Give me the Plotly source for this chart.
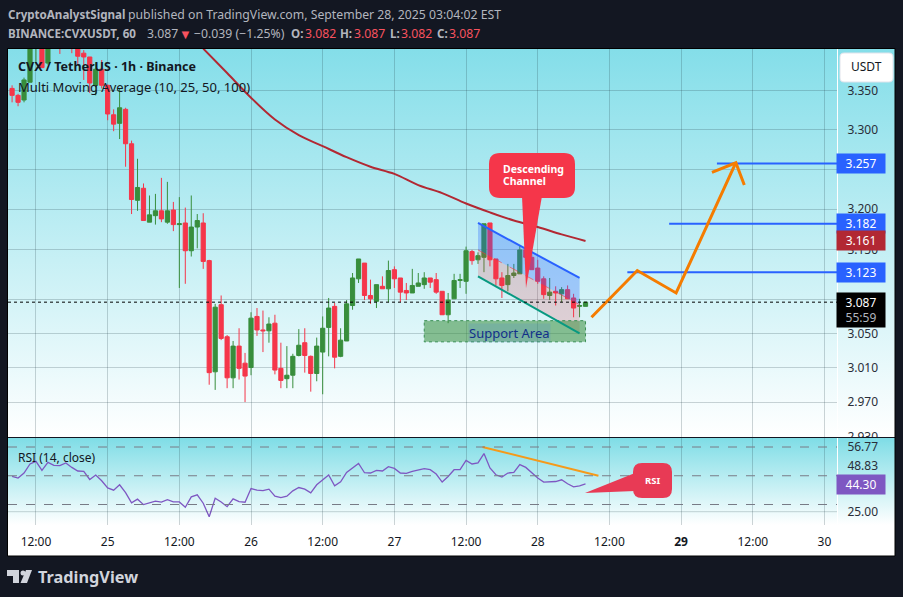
import math

import pandas as pd
import plotly.graph_objects as go

W, H = 903, 597
FONT = "Noto Sans"
DARK = "#131722"
GRID = "rgba(30,60,70,0.22)"
UP = "#388e3c"
DOWN = "#f5364a"

# hourly candles (the first bars run above the pane)
BAR_START = "2025-09-24 08:00"
OPEN = [3.353, 3.344, 3.338, 3.361, 3.425, 3.44, 3.386, 3.43, 3.46, 3.43, 3.44, 3.43, 3.399, 3.394, 3.357, 3.378,
        3.357, 3.319, 3.308, 3.326, 3.282, 3.211, 3.226, 3.184, 3.192, 3.198, 3.184, 3.199, 3.181, 3.183, 3.149, 3.178,
        3.183, 3.137, 3.005, 3.084, 3.046, 2.998, 3.035, 3.015, 3.010, 3.070, 3.054, 3.053, 3.062, 3.009, 2.997, 3.001,
        3.024, 3.039, 3.023, 3.003, 3.028, 3.057, 3.082, 3.023, 3.041, 3.083, 3.115, 3.134, 3.095, 3.088, 3.106, 3.103,
        3.126, 3.116, 3.101, 3.098, 3.106, 3.108, 3.116, 3.114, 3.100, 3.072, 3.091, 3.113, 3.112, 3.148, 3.138, 3.141,
        3.183, 3.139, 3.116, 3.108, 3.119, 3.121, 3.150, 3.141, 3.128, 3.115, 3.095, 3.100, 3.097, 3.102, 3.092, 3.082,
        3.082]
HIGH = [3.357, 3.346, 3.367, 3.44, 3.46, 3.46, 3.45, 3.47, 3.48, 3.45, 3.46, 3.45, 3.403, 3.394, 3.387, 3.390,
        3.358, 3.326, 3.353, 3.328, 3.286, 3.263, 3.232, 3.217, 3.219, 3.239, 3.234, 3.209, 3.215, 3.202, 3.217, 3.194,
        3.195, 3.138, 3.085, 3.095, 3.048, 3.041, 3.056, 3.027, 3.075, 3.080, 3.077, 3.069, 3.072, 3.039, 3.035, 3.026,
        3.055, 3.056, 3.024, 3.045, 3.070, 3.092, 3.086, 3.056, 3.0895, 3.122, 3.139, 3.134, 3.114, 3.108, 3.118, 3.137,
        3.130, 3.116, 3.110, 3.127, 3.122, 3.123, 3.116, 3.122, 3.100, 3.098, 3.121, 3.121, 3.154, 3.150, 3.147, 3.182,
        3.183, 3.139, 3.123, 3.133, 3.133, 3.155, 3.155, 3.147, 3.138, 3.118, 3.116, 3.106, 3.105, 3.107, 3.097, 3.091,
        3.087]
LOW = [3.335, 3.330, 3.335, 3.361, 3.386, 3.38, 3.384, 3.41, 3.398, 3.41, 3.399, 3.385, 3.364, 3.347, 3.344, 3.353,
       3.312, 3.298, 3.288, 3.253, 3.194, 3.198, 3.186, 3.184, 3.181, 3.184, 3.182, 3.173, 3.104, 3.109, 3.142, 3.152,
       3.127, 2.990, 2.984, 3.042, 2.986, 2.986, 2.996, 2.970, 3.001, 3.047, 3.028, 3.039, 3.002, 2.986, 2.986, 2.986,
       3.023, 3.004, 2.982, 2.994, 2.979, 3.023, 3.009, 3.022, 3.041, 3.078, 3.110, 3.0895, 3.085, 3.080, 3.103, 3.087,
       3.104, 3.087, 3.0895, 3.098, 3.106, 3.103, 3.104, 3.097, 3.072, 3.062, 3.091, 3.104, 3.097, 3.132, 3.133, 3.123,
       3.130, 3.107, 3.092, 3.100, 3.116, 3.121, 3.136, 3.126, 3.109, 3.091, 3.0895, 3.083, 3.087, 3.091, 3.069, 3.069,
       3.082]
CLOSE = [3.344, 3.335, 3.364, 3.42, 3.45, 3.380, 3.43, 3.46, 3.42, 3.42, 3.42, 3.395, 3.394, 3.360, 3.378, 3.357,
         3.320, 3.307, 3.328, 3.282, 3.212, 3.227, 3.186, 3.193, 3.198, 3.188, 3.198, 3.181, 3.182, 3.149, 3.178, 3.186,
         3.136, 3.004, 3.081, 3.044, 2.998, 3.035, 3.009, 3.000, 3.068, 3.054, 3.053, 3.061, 3.007, 2.995, 3.001, 3.023,
         3.036, 3.024, 3.003, 3.035, 3.056, 3.080, 3.022, 3.042, 3.085, 3.116, 3.139, 3.095, 3.091, 3.108, 3.103, 3.125,
         3.115, 3.099, 3.098, 3.107, 3.110, 3.116, 3.111, 3.099, 3.072, 3.0895, 3.113, 3.114, 3.149, 3.137, 3.143, 3.182,
         3.138, 3.115, 3.107, 3.119, 3.122, 3.150, 3.141, 3.126, 3.112, 3.096, 3.099, 3.098, 3.102, 3.091, 3.080, 3.083,
         3.087]

MA_TIMES = ["2025-09-25 16:00", "2025-09-25 20:00", "2025-09-26 00:00", "2025-09-26 04:00", "2025-09-26 08:00",
            "2025-09-26 12:00", "2025-09-26 16:00", "2025-09-26 20:00", "2025-09-27 00:00", "2025-09-27 04:00",
            "2025-09-27 08:00", "2025-09-27 12:00", "2025-09-27 16:00", "2025-09-27 20:00", "2025-09-28 00:00",
            "2025-09-28 04:00", "2025-09-28 08:00"]
MA_VALUES = [3.405, 3.373, 3.341, 3.313, 3.293, 3.279, 3.265, 3.253, 3.244, 3.230, 3.220, 3.207, 3.196, 3.186, 3.178,
             3.169, 3.161]

RSI = [49.5, 48.4, 51.9, 58.2, 60.0, 53.7, 59.3, 57.2, 57.0, 58.9, 55.8, 53.3, 53.0, 47.4, 50.5, 46.5, 41.6, 40.0, 43.7,
       38.3, 31.1, 33.7, 29.9, 30.9, 32.3, 31.6, 33.4, 31.8, 31.8, 28.1, 35.3, 36.7, 30.9, 21.5, 34.4, 31.8, 28.5, 33.9,
       32.0, 31.6, 41.1, 40.0, 39.7, 40.7, 35.8, 34.8, 35.8, 39.5, 41.8, 40.7, 38.1, 43.7, 47.2, 50.5, 43.0, 45.8, 52.3,
       55.6, 58.6, 52.1, 51.9, 53.7, 53.3, 56.3, 55.1, 51.9, 51.6, 53.0, 53.7, 54.9, 54.2, 51.2, 45.6, 49.5, 54.2, 54.2,
       60.7, 58.2, 58.9, 65.4, 55.4, 50.7, 49.1, 51.9, 52.3, 57.7, 55.8, 51.9, 48.4, 45.6, 45.8, 46.0, 47.2, 44.4, 42.3,
       43.0, 44.3]

# drawings on the chart, in time / price
CHANNEL_TIMES = ["2025-09-27 14:00", "2025-09-28 07:00"]
CHANNEL_TOP = [3.183, 3.116]
CHANNEL_MID = [3.150, 3.084]
CHANNEL_LOW = [3.118, 3.050]
SUPPORT_TIMES = ["2025-09-27 05:00", "2025-09-28 08:00"]
SUPPORT_PRICES = [3.040, 3.065]
TARGET_PRICES = [3.257, 3.182, 3.123]
TARGET_STARTS = ["2025-09-29 06:00", "2025-09-28 22:00", "2025-09-28 15:00"]
AXIS_END = "2025-09-30 02:06"
AXIS_START = "2025-09-24 07:19"
PATH_TIMES = ["2025-09-28 09:00", "2025-09-28 16:40", "2025-09-28 23:10", "2025-09-29 09:10"]
PATH_PRICES = [3.069, 3.125, 3.098, 3.258]
HEAD_TIMES = ["2025-09-29 05:10", "2025-09-29 09:10", "2025-09-29 10:35"]
HEAD_PRICES = [3.246, 3.258, 3.230]
RSI_TREND_TIMES = ["2025-09-27 14:45", "2025-09-28 10:10"]
RSI_TREND_VALUES = [70, 50]

PRICE_TICKS = [3.35, 3.30, 3.25, 3.20, 3.15, 3.09, 3.05, 3.01, 2.97, 2.93]
TIME_TICKS = ["2025-09-24 12:00", "2025-09-25 00:00", "2025-09-25 12:00", "2025-09-26 00:00", "2025-09-26 12:00",
              "2025-09-27 00:00", "2025-09-27 12:00", "2025-09-28 00:00", "2025-09-28 12:00", "2025-09-29 00:00",
              "2025-09-29 12:00", "2025-09-30 00:00"]
TIME_LABELS = ["12:00", "25", "12:00", "26", "12:00", "27", "12:00", "28", "12:00", "<b>29</b>", "12:00", "30"]
RSI_TICKS = [70, 56.8, 25]
RSI_LABELS = ["56.77", "48.83", "25.00"]
RSI_BANDS = [70, 50, 30]

bar_times = pd.date_range(BAR_START, periods=len(OPEN), freq="h")


def px_x(x):
    return x / W


def px_y(y):
    return 1 - y / H


def pt(x, y):
    return f"{px_x(x):.5f},{px_y(y):.5f}"


def round_rect(x0, y0, x1, y1, r):
    return (f"M {pt(x0 + r, y0)} L {pt(x1 - r, y0)} Q {pt(x1, y0)} {pt(x1, y0 + r)} L {pt(x1, y1 - r)} "
            f"Q {pt(x1, y1)} {pt(x1 - r, y1)} L {pt(x0 + r, y1)} Q {pt(x0, y1)} {pt(x0, y1 - r)} "
            f"L {pt(x0, y0 + r)} Q {pt(x0, y0)} {pt(x0 + r, y0)} Z")


def panel(path, fill, line="rgba(0,0,0,0)", width=0):
    fig.add_shape(type="path", path=path, xref="paper", yref="paper", fillcolor=fill,
                  line=dict(color=line, width=width), layer="above")


def label(text, x, y, size=12, color="#000000", anchor="left", **kw):
    fig.add_annotation(text=text, xref="paper", yref="paper", x=px_x(x), y=px_y(y), showarrow=False,
                       xanchor=anchor, yanchor="middle", font=dict(family=FONT, size=size, color=color), **kw)


def price_tag(text, price, bg, color="#ffffff", height=19, shift=0):
    fig.add_annotation(text=text, xref="paper", yref="y2", x=px_x(861), y=math.log10(price), showarrow=False,
                       xanchor="center", yanchor="middle", bgcolor=bg, width=48, height=height, yshift=shift,
                       font=dict(family=FONT, size=12, color=color), borderpad=0)


fig = go.Figure()


def gradient_rect(x0, x1, y0, y1, top):
    # pane background, on its own pixel-scaled axes underneath everything
    fig.add_trace(go.Scatter(x=[x0, x1, x1, x0, x0], y=[y0, y0, y1, y1, y0], mode="lines", fill="toself",
                             line=dict(width=0),
                             fillgradient=dict(type="vertical", colorscale=[[0, "#ffffff"], [1, top]]),
                             hoverinfo="skip", xaxis="x", yaxis="y"))


gradient_rect(8, 895, 49, 437, "#84dee9")
gradient_rect(8, 895, 438, 525, "#7fdde6")
fig.add_trace(go.Scatter(x=[8, 895, 895, 8, 8], y=[525, 525, 556, 556, 525], mode="lines", fill="toself",
                         fillcolor="#ffffff", line=dict(width=0), hoverinfo="skip", xaxis="x", yaxis="y"))

fig.add_trace(go.Candlestick(x=bar_times, open=OPEN, high=HIGH, low=LOW, close=CLOSE, whiskerwidth=0,
                             increasing=dict(line=dict(color=UP, width=1), fillcolor=UP),
                             decreasing=dict(line=dict(color=DOWN, width=1), fillcolor=DOWN),
                             xaxis="x2", yaxis="y2"))


def line2(x, y, color, width=2, dash="solid", axis="y2", shape="linear"):
    fig.add_trace(go.Scatter(x=x, y=y, mode="lines", line=dict(color=color, width=width, dash=dash, shape=shape),
                             hoverinfo="skip", xaxis="x2", yaxis=axis))


# channel fills, upper half blue and lower half pink
fig.add_trace(go.Scatter(x=CHANNEL_TIMES + CHANNEL_TIMES[::-1], y=CHANNEL_TOP + CHANNEL_MID[::-1], mode="lines",
                         fill="toself", fillcolor="rgba(41,98,255,0.30)", line=dict(width=0), hoverinfo="skip",
                         xaxis="x2", yaxis="y2"))
fig.add_trace(go.Scatter(x=CHANNEL_TIMES + CHANNEL_TIMES[::-1], y=CHANNEL_MID + CHANNEL_LOW[::-1], mode="lines",
                         fill="toself", fillcolor="rgba(242,54,69,0.20)", line=dict(width=0), hoverinfo="skip",
                         xaxis="x2", yaxis="y2"))
fig.add_trace(go.Scatter(x=[SUPPORT_TIMES[0], SUPPORT_TIMES[1], SUPPORT_TIMES[1], SUPPORT_TIMES[0], SUPPORT_TIMES[0]],
                         y=[SUPPORT_PRICES[1], SUPPORT_PRICES[1], SUPPORT_PRICES[0], SUPPORT_PRICES[0],
                            SUPPORT_PRICES[1]],
                         mode="lines", fill="toself", fillcolor="rgba(56,142,60,0.55)",
                         line=dict(color="#3a8f55", width=1, dash="dot"), hoverinfo="skip", xaxis="x2", yaxis="y2"))
line2(CHANNEL_TIMES, CHANNEL_MID, "rgba(242,54,69,0.6)", 1, "dash")
line2(CHANNEL_TIMES, CHANNEL_TOP, "#2962ff")
line2(CHANNEL_TIMES, CHANNEL_LOW, "#089981")
line2(MA_TIMES, MA_VALUES, "#b22833", shape="spline")

for price, start in zip(TARGET_PRICES, TARGET_STARTS):
    line2([start, AXIS_END], [price, price], "#2962ff")
line2(PATH_TIMES, PATH_PRICES, "#f57c00", 3)
line2(HEAD_TIMES, HEAD_PRICES, "#f57c00", 3)

line2(bar_times, RSI, "#7e57c2", 1.3, axis="y3")
line2(RSI_TREND_TIMES, RSI_TREND_VALUES, "#f59a1a", 2, axis="y3")

# rsi band and its dashed levels
fig.add_shape(type="rect", xref="x2 domain", yref="y3", x0=0, x1=1, y0=RSI_BANDS[2], y1=RSI_BANDS[0],
              fillcolor="rgba(126,87,194,0.18)", line=dict(width=0), layer="below")
for level in RSI_BANDS:
    fig.add_shape(type="line", xref="x2 domain", yref="y3", x0=0, x1=1, y0=level, y1=level,
                  line=dict(color="#787b86", width=1, dash="dash"))
fig.add_shape(type="line", xref="x2 domain", yref="y2", x0=0, x1=1, y0=CLOSE[-1], y1=CLOSE[-1],
              line=dict(color="#000000", width=1, dash="dot"))

# frame
fig.add_shape(type="rect", xref="paper", yref="paper", x0=px_x(837), x1=px_x(895), y0=px_y(441.5), y1=px_y(438),
              fillcolor="#82dde7", line=dict(width=0), layer="above")
fig.add_shape(type="line", xref="paper", yref="paper", x0=px_x(837.5), x1=px_x(837.5), y0=px_y(49), y1=px_y(525),
              line=dict(color="#ffffff", width=1), layer="above")
fig.add_shape(type="line", xref="paper", yref="paper", x0=px_x(8), x1=px_x(895), y0=px_y(437.5), y1=px_y(437.5),
              line=dict(color="#131722", width=1), layer="above")
fig.add_shape(type="rect", xref="paper", yref="paper", x0=px_x(7.5), x1=px_x(895), y0=px_y(556), y1=px_y(48.5),
              line=dict(color="#000000", width=1), layer="above")

# callouts
panel(round_rect(489, 153, 575, 198, 11), DOWN)
panel(f"M {pt(522, 196)} L {pt(526, 288)} L {pt(542, 196)} Z", DOWN)
panel(round_rect(633, 463, 672, 498, 9), "#e83a55")
panel(f"M {pt(635, 473)} L {pt(585, 493)} L {pt(635, 491)} Z", "#e83a55")
panel(round_rect(840, 53, 893, 82, 4), "#ffffff", "#e0e3eb", 1)

label("<b>Descending</b>", 500.5, 169, 10.5, "#ffffff")
label("<b>Channel</b>", 500.5, 180.5, 10.5, "#ffffff")
label("<b>RSI</b>", 652, 480, 9.5, "#ffffff", anchor="center")
label("USDT", 866.5, 67, 12, "#131722", anchor="center")

fig.add_annotation(text="Support Area", xref="x2", yref="y2", x="2025-09-27 19:20", y=math.log10(3.0505),
                   showarrow=False, font=dict(family=FONT, size=13, color="#12308a"),
                   bgcolor="rgba(41,98,255,0.12)", borderpad=0)

# price scale tags
price_tag("3.257", 3.257, "#2962ff")
price_tag("3.182", 3.182, "#2962ff")
price_tag("3.161", 3.161, "#b22833")
price_tag("3.123", 3.123, "#2962ff")
price_tag("3.087<br><span style='color:#b2b5be'>55:59</span>", 3.087, "#000000", height=34, shift=-8)
label("44.30", 861, 484.5, 12, "#ffffff", anchor="center", bgcolor="#7e57c2", width=48, height=19, borderpad=0)

# pane titles
label("<b>CVX / TetherUS · 1h · Binance</b>", 15.5, 67, 12.5, "#131722")
label("Multi Moving Average (10, 25, 50, 100)", 15.5, 87, 13, "#131722")
label("RSI (14, close)", 15.5, 457, 12, "#131722")

# header
HEAD_SIZE = 12.25
HEAD_BOLD = 11.6
HEAD_GREY = "#b2b5be"
HEAD_RED = "#f7525f"
label("<b>CryptoAnalystSignal</b>", 5.5, 14.5, HEAD_BOLD, HEAD_GREY)
label("published on TradingView.com, September 28, 2025 03:04:02 EST", 125.5, 14.5, HEAD_SIZE, HEAD_GREY)
label("<b>BINANCE:CVXUSDT, 60</b>", 5.5, 33.5, HEAD_BOLD, HEAD_GREY)
label("3.087", 144.5, 33.5, HEAD_SIZE, HEAD_GREY)
label("▼", 177, 33.5, 13, HEAD_RED)
label("−0.039 (−1.25%)", 191.5, 33.5, HEAD_SIZE, HEAD_GREY)
for name, value, name_x, value_x in zip("OHLC", ["3.082", "3.087", "3.082", "3.087"], [288.5, 337.5, 387.5, 434.5],
                                        [302.5, 351.5, 398.5, 446.5]):
    label(f"<b>{name}:</b>", name_x, 33.5, HEAD_BOLD, HEAD_GREY)
    label(value, value_x, 33.5, HEAD_SIZE, HEAD_RED)

# footer logo and wordmark
panel(f"M {pt(7, 570)} L {pt(19, 570)} L {pt(19, 583)} L {pt(13, 583)} L {pt(13, 576)} L {pt(7, 576)} Z", "#d1d4dc")
panel(f"M {pt(26, 570)} L {pt(32, 570)} L {pt(27, 583)} L {pt(20.5, 583)} Z", "#d1d4dc")
fig.add_shape(type="circle", xref="paper", yref="paper", x0=px_x(20.5), x1=px_x(25.5), y0=px_y(575.5), y1=px_y(570.5),
              fillcolor="#d1d4dc", line=dict(width=0), layer="above")
label("<b>TradingView</b>", 36, 577, 16.3, "#d1d4dc")

fig.update_layout(
    width=W,
    height=H,
    margin=dict(l=0, r=0, t=0, b=0, autoexpand=False),
    paper_bgcolor=DARK,
    plot_bgcolor="rgba(0,0,0,0)",
    showlegend=False,
    boxgap=0.3,
    boxgroupgap=0,
    font=dict(family=FONT, size=12, color="#131722"),
    xaxis=dict(domain=[px_x(8), px_x(895)], range=[8, 895], visible=False, fixedrange=True),
    yaxis=dict(domain=[px_y(556), px_y(49)], range=[556, 49], visible=False, fixedrange=True),
    xaxis2=dict(
        domain=[px_x(8), px_x(837)],
        range=[AXIS_START, AXIS_END],
        type="date",
        anchor="y3",
        rangeslider=dict(visible=False),
        tickmode="array",
        tickvals=TIME_TICKS,
        ticktext=TIME_LABELS,
        showgrid=True,
        gridcolor=GRID,
        gridwidth=1,
        ticks="outside",
        ticklen=6,
        tickcolor="rgba(0,0,0,0)",
        tickfont=dict(family=FONT, size=12, color="#131722"),
        zeroline=False,
        showline=False,
    ),
    yaxis2=dict(
        domain=[px_y(437.5), px_y(49)],
        type="log",
        range=[math.log10(2.9296), math.log10(3.4045)],
        anchor="x2",
        side="right",
        tickmode="array",
        tickvals=PRICE_TICKS,
        ticktext=[f"{v:.3f}" for v in PRICE_TICKS],
        showgrid=True,
        gridcolor=GRID,
        ticks="outside",
        ticklen=7,
        tickcolor="rgba(0,0,0,0)",
        tickfont=dict(family=FONT, size=12, color="#2a2e39"),
        zeroline=False,
        showline=False,
    ),
    yaxis3=dict(
        domain=[px_y(525), px_y(438)],
        range=[15.74, 76.26],
        anchor="x2",
        side="right",
        tickmode="array",
        tickvals=RSI_TICKS,
        ticktext=RSI_LABELS,
        showgrid=False,
        ticks="outside",
        ticklen=7,
        tickcolor="rgba(0,0,0,0)",
        tickfont=dict(family=FONT, size=12, color="#2a2e39"),
        zeroline=False,
        showline=False,
    ),
)
# gridline at 25 on the rsi pane
fig.add_shape(type="line", xref="x2 domain", yref="y3", x0=0, x1=1, y0=25, y1=25, line=dict(color=GRID, width=1))

fig.write_html("out.html", config=dict(displayModeBar=False), post_script="document.body.style.margin='0';")
